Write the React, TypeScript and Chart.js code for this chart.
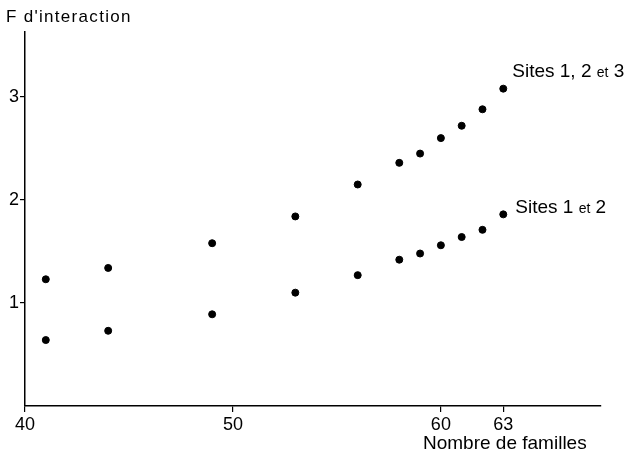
import React, { useEffect, useRef } from "react";
import { Chart, registerables } from "chart.js";

Chart.register(...registerables);

const familles = [41, 44, 49, 53, 56, 58, 59, 60, 61, 62, 63];
const sites123 = [1.23, 1.34, 1.58, 1.84, 2.15, 2.36, 2.45, 2.6, 2.72, 2.88, 3.08];
const sites12 = [0.64, 0.73, 0.89, 1.1, 1.27, 1.42, 1.48, 1.56, 1.64, 1.71, 1.86];
const xTicks = [40, 50, 60, 63];
const yTicks = [1, 2, 3];
const yTitle = "F d'interaction";
const xTitle = "Nombre de familles";

const FONT = "'Liberation Sans', Arial, sans-serif";

const textPlugin = {
  id: "annotText",
  afterDraw(chart: any) {
    const ctx = chart.ctx;
    const x = chart.scales.x;
    const y = chart.scales.y;
    ctx.save();
    ctx.fillStyle = "#000";
    ctx.textBaseline = "alphabetic";
    ctx.textAlign = "left";
    ctx.font = `17px ${FONT}`;
    (ctx as any).letterSpacing = "1.3px";
    ctx.fillText(yTitle, 6, 22);
    (ctx as any).letterSpacing = "0px";
    ctx.font = `19px ${FONT}`;
    ctx.fillText(xTitle, 423, 449);
    const drawParts = (parts: [string, number][], px: number, py: number) => {
      let cx = px;
      for (const [t, size] of parts) {
        ctx.font = `${size}px ${FONT}`;
        ctx.fillText(t, cx, py);
        cx += ctx.measureText(t).width;
      }
    };
    const lx1 = x.getPixelForValue(63) + 9;
    const ly1 = y.getPixelForValue(3.08) - 12;
    drawParts([["Sites 1, 2 ", 19], ["et", 14], [" 3", 19]], lx1, ly1);
    const lx2 = x.getPixelForValue(63) + 12;
    const ly2 = y.getPixelForValue(1.86) - 1;
    drawParts([["Sites 1 ", 19], ["et", 14], [" 2", 19]], lx2, ly2);
    ctx.restore();
  },
};

export default function App() {
  const ref = useRef<HTMLCanvasElement>(null);
  useEffect(() => {
    if (!ref.current) return;
    const pts = (ys: number[]) => familles.map((f, i) => ({ x: f, y: ys[i] }));
    const chart = new Chart(ref.current, {
      type: "scatter",
      data: {
        datasets: [
          { label: "Sites 1, 2 et 3", data: pts(sites123), backgroundColor: "#000", borderColor: "#000", pointRadius: 3.5 },
          { label: "Sites 1 et 2", data: pts(sites12), backgroundColor: "#000", borderColor: "#000", pointRadius: 3.5 },
        ],
      },
      plugins: [textPlugin],
      options: {
        animation: false,
        responsive: false,
        devicePixelRatio: 1,
        layout: { padding: { top: 32, right: 30, left: 0, bottom: 0 } },
        plugins: { legend: { display: false }, tooltip: { enabled: false } },
        scales: {
          x: {
            type: "linear",
            min: 40,
            max: 67.7,
            afterBuildTicks: (s: any) => { s.ticks = xTicks.map((v) => ({ value: v })); },
            afterFit: (s: any) => { s.height = 48; },
            border: { display: true, color: "#000", width: 1.5 },
            grid: { display: true, drawOnChartArea: false, drawTicks: true, tickLength: 6, color: "#000", lineWidth: 1.2 },
            ticks: { color: "#000", font: { family: FONT, size: 18 }, padding: 2, maxRotation: 0, autoSkip: false },
          },
          y: {
            type: "linear",
            min: 0,
            max: 3.63,
            afterBuildTicks: (s: any) => { s.ticks = yTicks.map((v) => ({ value: v })); },
            afterFit: (s: any) => { s.width = 25; },
            border: { display: true, color: "#000", width: 1.5 },
            grid: { display: true, drawOnChartArea: false, drawTicks: true, tickLength: 5, color: "#000", lineWidth: 1.2 },
            ticks: { color: "#000", font: { family: FONT, size: 18 }, padding: 1 },
          },
        },
      },
    });
    return () => chart.destroy();
  }, []);
  return (
    <div style={{ position: "fixed", left: 0, top: 0, width: 631, height: 454, background: "#fff" }}>
      <canvas ref={ref} width={631} height={454} style={{ width: 631, height: 454 }} />
    </div>
  );
}
